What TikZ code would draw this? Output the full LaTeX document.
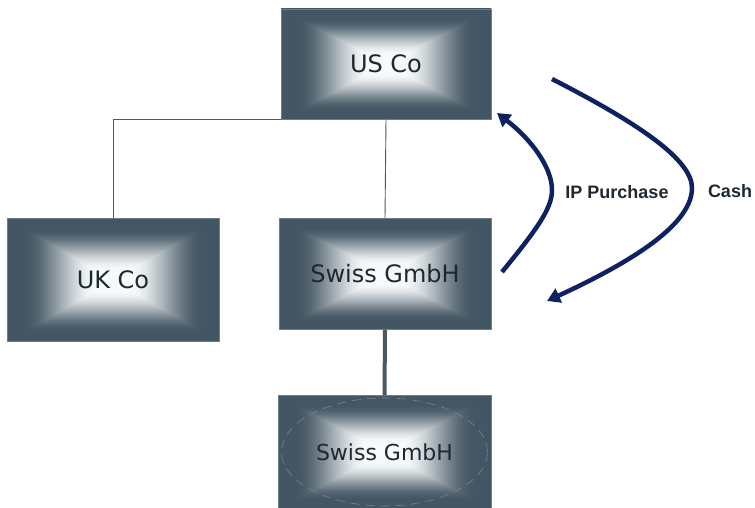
\documentclass[tikz,border=0pt]{standalone}
\usepackage{fontspec}
\setmainfont{DejaVu Sans}
\newfontfamily\labelfont{Liberation Sans}
\usetikzlibrary{arrows.meta}

% rectangular "from centre" gradient: light centre, slate edges
% (the middle 50bp x 50bp of the shading covers the filled shape);
% t = max(|x|,|y|)/25, remapped and eased with a smoothstep
\pgfdeclarefunctionalshading{boxglow}{\pgfpoint{-50bp}{-50bp}}{\pgfpoint{50bp}{50bp}}{}{
  abs exch abs 2 copy lt {exch} if pop 25 div
  0.15 sub 0.7 div
  dup 0 lt {pop 0} if
  dup 1 gt {pop 1} if
  dup dup mul exch -2 mul 3 add mul
  dup -0.707 mul 0.97 add exch
  dup -0.643 mul 0.98 add exch
  -0.592 mul 0.98 add
}

\definecolor{slateedge}{RGB}{112,128,138}
\definecolor{linkgray}{RGB}{74,88,98}
\definecolor{inktext}{RGB}{30,40,48}
\definecolor{flownavy}{RGB}{14,33,97}
\definecolor{ovalgray}{RGB}{120,132,140}

\tikzset{
  entity/.style={rectangle, shading=boxglow, draw=slateedge, line width=0.6pt,
    inner sep=0pt, text=inktext, font=\fontsize{24}{28}\selectfont},
  link/.style={draw=linkgray, line width=0.9pt},
  flow/.style={draw=flownavy, line width=4.5pt,
    -{Triangle[length=13pt,width=15pt]}},
  flowlabel/.style={font=\labelfont\bfseries\fontsize{18}{21}\selectfont, text=inktext}
}

\begin{document}
\begin{tikzpicture}[x=1pt, y=-1pt]
  \useasboundingbox (0,0) rectangle (755,508);

  \node[entity, minimum width=210pt, minimum height=110pt] (us) at (386,64) {US Co};
  \node[entity, minimum width=212pt, minimum height=123pt] (uk) at (113,280) {UK Co};
  \node[entity, minimum width=212pt, minimum height=111pt] (swiss) at (385,274) {Swiss GmbH};
  \node[entity, minimum width=213pt, minimum height=113pt,
        font=\fontsize{22}{26}\selectfont] (swisslow) at (384.5,452) {Swiss GmbH};
  \draw[draw=ovalgray, dash pattern=on 9pt off 6pt, line width=0.6pt]
        (swisslow.center) ellipse [x radius=103pt, y radius=54pt];

  % ownership lines
  \draw[link] (uk.north) |- (us.south west);
  \draw[link] (us.south) -- (swiss.north);
  \draw[draw=linkgray, line width=4pt] (swiss.south) -- (swisslow.north);

  % flows between Swiss GmbH and US Co
  \coordinate (ipstart) at (502,272);
  \coordinate (ipbend) at (552,190);
  \coordinate (ipend) at (497,113);
  \coordinate (cashstart) at (552,79);
  \coordinate (cashbend) at (692,188);
  \coordinate (cashend) at (547,301);

  \draw[flow] (ipstart) .. controls (538,228) and (552,208) .. (ipbend)
              .. controls (552,168) and (532,140) .. (ipend);
  \draw[flow] (cashstart) .. controls (640,124) and (692,160) .. (cashbend)
              .. controls (692,222) and (640,258) .. (cashend);

  \node[flowlabel] (iplabel) at (617,192) {IP Purchase};
  \node[flowlabel] (cashlabel) at (730,191) {Cash};
\end{tikzpicture}
\end{document}
